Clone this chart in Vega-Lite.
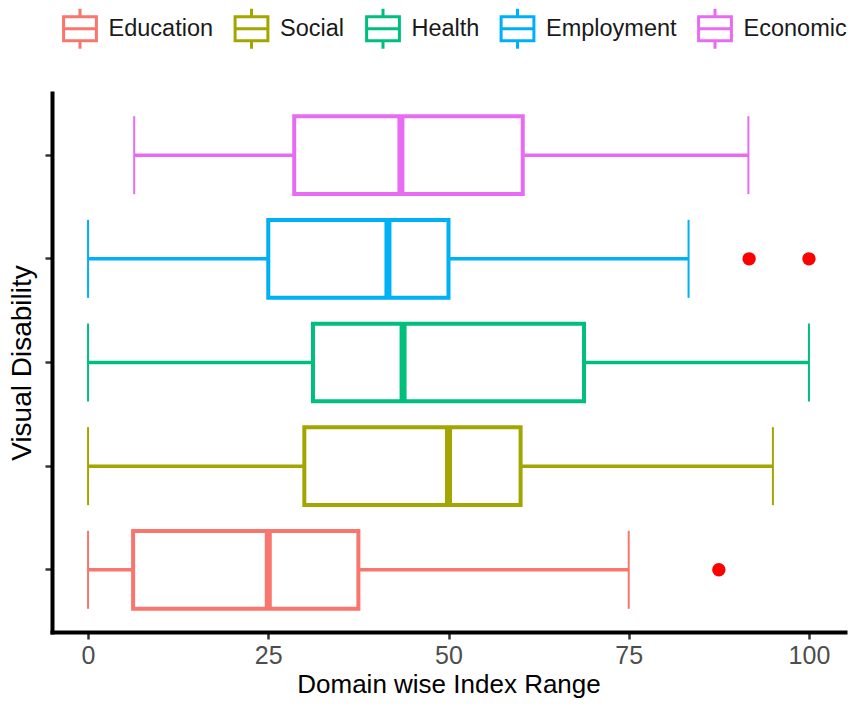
{
  "$schema": "https://vega.github.io/schema/vega-lite/v6.json",
  "width": 793,
  "height": 539,
  "autosize": {"type": "none"},
  "padding": {"left": 52, "top": 93, "right": 13, "bottom": 77},
  "background": "white",
  "config": {
    "font": "Liberation Sans",
    "view": {"stroke": null},
    "axis": {"grid": false}
  },
  "datasets": {
    "stats": [
      {"domain": "Education", "lo": 0, "q1": 6.25, "med": 25, "q3": 37.5, "hi": 75},
      {"domain": "Social", "lo": 0, "q1": 30, "med": 50, "q3": 60, "hi": 95},
      {"domain": "Health", "lo": 0, "q1": 31.2, "med": 43.7, "q3": 68.8, "hi": 100},
      {"domain": "Employment", "lo": 0, "q1": 25, "med": 41.6, "q3": 50, "hi": 83.3},
      {"domain": "Economic", "lo": 6.4, "q1": 28.6, "med": 43.4, "q3": 60.3, "hi": 91.6}
    ],
    "outliers": [
      {"domain": "Employment", "value": 91.7},
      {"domain": "Employment", "value": 100},
      {"domain": "Education", "value": 87.5}
    ]
  },
  "layer": [
    {
      "data": {"name": "stats"},
      "mark": {"type": "bar", "fill": "white", "strokeWidth": 4},
      "encoding": {
        "y": {
          "field": "domain", "type": "nominal",
          "scale": {"type": "band", "domain": ["Economic", "Employment", "Health", "Social", "Education"], "paddingInner": 0.25, "paddingOuter": 0.225},
          "axis": {
            "title": "Visual Disability", "labels": false,
            "domainColor": "black", "domainWidth": 4, "domainCap": "square",
            "tickColor": "#333333", "tickWidth": 2.5, "tickSize": 7,
            "titleFontSize": 28, "titleFontWeight": "normal", "titleColor": "black", "titlePadding": 7
          }
        },
        "x": {
          "field": "q1", "type": "quantitative",
          "scale": {"domain": [-5, 105], "nice": false, "zero": false},
          "axis": {
            "title": "Domain wise Index Range", "values": [0, 25, 50, 75, 100],
            "labelFontSize": 25, "labelColor": "#4d4d4d", "labelPadding": 4,
            "tickSize": 7, "tickWidth": 2.5, "tickColor": "#333333",
            "domainColor": "black", "domainWidth": 4, "domainCap": "square",
            "titleFontSize": 26, "titleFontWeight": "normal", "titleColor": "black", "titlePadding": 3
          }
        },
        "x2": {"field": "q3"},
        "stroke": {
          "field": "domain", "type": "nominal",
          "scale": {"domain": ["Education", "Social", "Health", "Employment", "Economic"], "range": ["#F8766D", "#A3A500", "#00BF7D", "#00B0F6", "#E76BF3"]},
          "legend": {
            "title": null, "orient": "none", "direction": "horizontal",
            "legendX": 6.5, "legendY": -86, "padding": 0,
            "symbolType": "M-0.895,-0.6H0.895 M0.82,-0.675V0.675 M0.895,0.6H-0.895 M-0.82,0.675V-0.675 M-0.82,0H0.82 M0,-1V-0.6 M0,0.6V1",
            "symbolSize": 1600, "symbolStrokeWidth": 3, "symbolFillColor": "transparent",
            "labelFontSize": 23.5, "labelColor": "#1a1a1a", "labelOffset": 7, "columnPadding": 13.5, "labelLimit": 300
          }
        }
      }
    },
    {
      "data": {"name": "stats"},
      "mark": {"type": "rule", "strokeWidth": 3.5},
      "encoding": {
        "y": {"field": "domain", "type": "nominal"},
        "x": {"field": "lo", "type": "quantitative"},
        "x2": {"field": "q1"},
        "stroke": {"field": "domain", "type": "nominal", "legend": null}
      }
    },
    {
      "data": {"name": "stats"},
      "mark": {"type": "rule", "strokeWidth": 3.5},
      "encoding": {
        "y": {"field": "domain", "type": "nominal"},
        "x": {"field": "q3", "type": "quantitative"},
        "x2": {"field": "hi"},
        "stroke": {"field": "domain", "type": "nominal", "legend": null}
      }
    },
    {
      "data": {"name": "stats"},
      "mark": {"type": "tick", "thickness": 2, "size": 78, "opacity": 1},
      "encoding": {
        "y": {"field": "domain", "type": "nominal"},
        "x": {"field": "lo", "type": "quantitative"},
        "color": {
          "field": "domain", "type": "nominal", "legend": null,
          "scale": {"domain": ["Education", "Social", "Health", "Employment", "Economic"], "range": ["#F8766D", "#A3A500", "#00BF7D", "#00B0F6", "#E76BF3"]}
        }
      }
    },
    {
      "data": {"name": "stats"},
      "mark": {"type": "tick", "thickness": 2, "size": 78, "opacity": 1},
      "encoding": {
        "y": {"field": "domain", "type": "nominal"},
        "x": {"field": "hi", "type": "quantitative"},
        "color": {"field": "domain", "type": "nominal", "legend": null}
      }
    },
    {
      "data": {"name": "stats"},
      "mark": {"type": "tick", "thickness": 7, "size": 78, "opacity": 1},
      "encoding": {
        "y": {"field": "domain", "type": "nominal"},
        "x": {"field": "med", "type": "quantitative"},
        "color": {"field": "domain", "type": "nominal", "legend": null}
      }
    },
    {
      "data": {"name": "outliers"},
      "mark": {"type": "circle", "color": "#ff0000", "size": 180, "opacity": 1},
      "encoding": {
        "y": {"field": "domain", "type": "nominal"},
        "x": {"field": "value", "type": "quantitative"}
      }
    }
  ]
}
